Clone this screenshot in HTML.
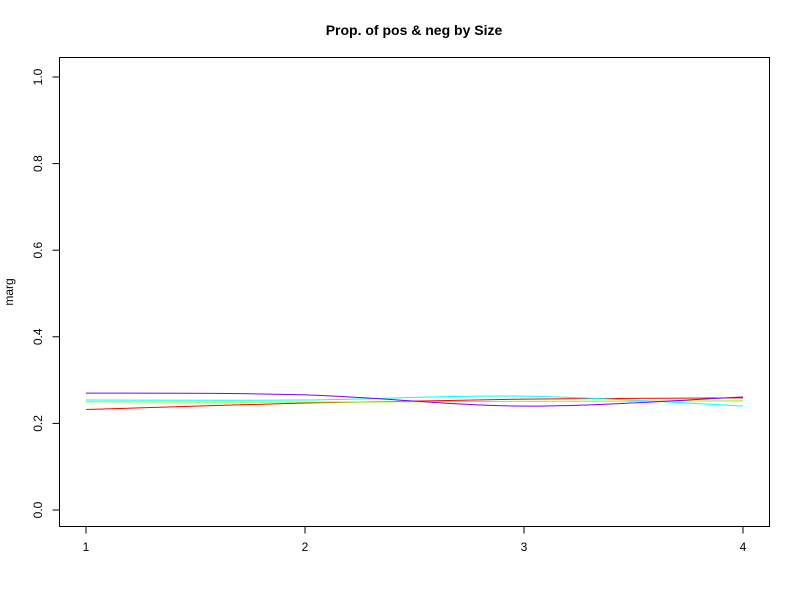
<!DOCTYPE html>
<html><head><meta charset="utf-8"><style>
body{margin:0;background:#fff;font-family:"Liberation Sans",sans-serif;}
</style></head><body>
<svg id="chart" width="800" height="600" xmlns="http://www.w3.org/2000/svg" font-family="Liberation Sans, sans-serif">
<rect width="800" height="600" fill="#fff"/>
<text x="414" y="35" text-anchor="middle" font-size="14" font-weight="bold">Prop. of pos &amp; neg by Size</text>
<rect x="59.5" y="57.5" width="710" height="469" fill="none" stroke="#000"/>
<text transform="translate(13,292) rotate(-90)" text-anchor="middle" font-size="12">marg</text>
<g id="axes"></g>
<g id="series"></g>
</svg>
<script>
const categories=[1,2,3,4];
const yTicks=[0.0,0.2,0.4,0.6,0.8,1.0];
const seriesColors=["#FF0000","#80FF00","#00FFFF","#8000FF"];
const redVals=[0.232,0.247,0.256,0.259];
const greenVals=[0.250,0.249,0.251,0.252];
const cyanVals=[0.254,0.254,0.263,0.240];
const purpleVals=[0.270,0.266,0.240,0.261];
const allSeries=[redVals,greenVals,cyanVals,purpleVals];
const NS="http://www.w3.org/2000/svg";
function xs(v){return 86+(v-1)*219;}
function ys(v){return 510-v*433;}
const axes=document.getElementById('axes');
function mk(tag,attrs,parent){const e=document.createElementNS(NS,tag);for(const k in attrs)e.setAttribute(k,attrs[k]);parent.appendChild(e);return e;}
mk('line',{x1:xs(1),x2:xs(4),y1:526.5,y2:526.5,stroke:'#000'},axes);
categories.forEach(c=>{
  const l=mk('line',{x1:xs(c),x2:xs(c),y1:526.5,y2:533.5,stroke:'#000'},axes);
  
  
  const t=mk('text',{x:xs(c),y:551,'text-anchor':'middle','font-size':'12'},axes);
  t.textContent=c;
  
  
});
mk('line',{x1:59.5,x2:59.5,y1:ys(0),y2:ys(1),stroke:'#000'},axes);
yTicks.forEach(v=>{
  const l=mk('line',{x1:52.5,x2:59.5,y1:ys(v),y2:ys(v),stroke:'#000'},axes);
  
  
  const t=mk('text',{transform:`translate(42,${ys(v)}) rotate(-90)`,'text-anchor':'middle','font-size':'12'},axes);
  t.textContent=v.toFixed(1);
  
  
});
const sg=document.getElementById('series');
allSeries.forEach((vals,i)=>{
  const p=vals.map((v,j)=>[xs(categories[j]),ys(v)]);
  let d=`M${p[0][0]},${p[0][1]}`;
  for(let j=0;j<p.length-1;j++){
    const p0=p[j-1]||p[j],p1=p[j],p2=p[j+1],p3=p[j+2]||p[j+1];
    const c1=[p1[0]+(p2[0]-p0[0])/6,p1[1]+(p2[1]-p0[1])/6];
    const c2=[p2[0]-(p3[0]-p1[0])/6,p2[1]-(p3[1]-p1[1])/6];
    d+=` C${c1[0]},${c1[1]} ${c2[0]},${c2[1]} ${p2[0]},${p2[1]}`;
  }
  const path=mk('path',{d:d,fill:'none',stroke:seriesColors[i],'stroke-width':1},sg);
  
  
});
</script>
</body></html>
